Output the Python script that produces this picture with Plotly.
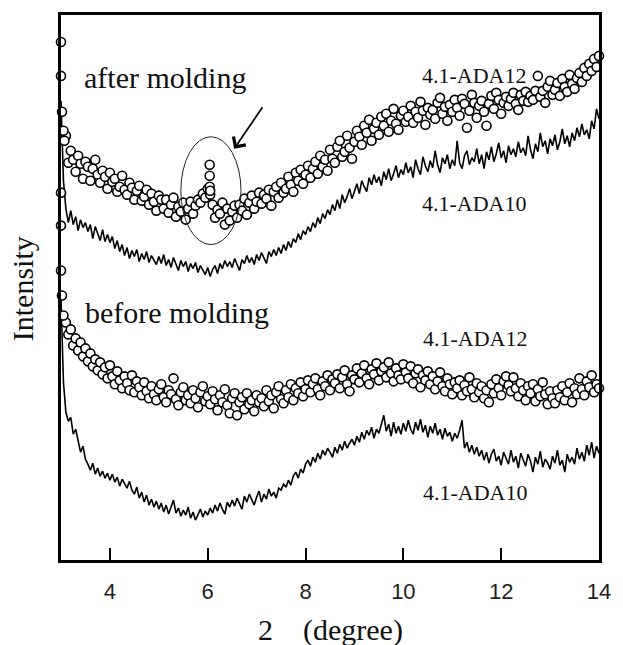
import numpy as np
import plotly.graph_objects as go

# ---------------- data (arbitrary intensity units) ----------------
# regular 2-theta scan grids
x_line = np.round(np.arange(3.00, 14.0001, 0.05), 2)      # 221 points
x_dots = np.round(np.arange(3.10, 14.0001, 0.05), 2)      # 219 points

after_ada10 = [
    460, 380, 352, 338, 350, 336, 344, 330, 341, 333,
    338, 329, 336, 322, 334, 327, 320, 331, 319, 326,
    318, 324, 312, 320, 309, 316, 305, 313, 302, 310,
    304, 311, 299, 307, 301, 309, 298, 305, 300, 296,
    304, 297, 306, 295, 301, 293, 303, 296, 290, 300,
    294, 299, 289, 297, 292, 298, 288, 295, 290, 286,
    293, 284, 291, 295, 287, 297, 292, 300, 294, 299,
    293, 302, 296, 290, 301, 297, 305, 298, 303, 296,
    306, 300, 308, 302, 297, 309, 304, 311, 305, 313,
    307, 316, 310, 319, 313, 322, 318, 327, 321, 330,
    326, 334, 329, 338, 333, 343, 337, 347, 342, 351,
    346, 356, 350, 361, 352, 366, 358, 364, 372, 362,
    370, 377, 367, 380, 374, 369, 383, 376, 386, 378,
    384, 375, 389, 381, 392, 380, 387, 395, 383, 391,
    386, 398, 388, 394, 383, 401, 392, 386, 404, 395,
    389, 400, 393, 410, 396, 388, 403, 397, 406, 392,
    401, 395, 420, 398, 392, 405, 410, 396, 403, 399,
    412, 397, 406, 392, 409, 401, 414, 399, 407, 418,
    403, 410, 398, 415, 406, 412, 404, 419, 408, 413,
    405, 425, 411, 402, 417, 409, 428, 414, 420, 407,
    422, 415, 426, 411, 419, 432, 417, 425, 414, 428,
    420, 433, 424, 437, 426, 431, 422, 440, 432, 452,
    442,
]

before_ada10 = [
    262, 178, 148, 139, 143, 126, 131, 118, 108, 114,
    101, 96, 90, 97, 86, 92, 84, 89, 82, 87,
    80, 86, 78, 83, 74, 81, 76, 72, 79, 70,
    66, 73, 62, 68, 58, 65, 55, 61, 53, 59,
    51, 57, 48, 55, 46, 53, 60, 47, 52, 44,
    50, 45, 53, 42, 48, 40, 46, 51, 43, 49,
    45, 52, 47, 55, 49, 57, 51, 46, 58, 53,
    60, 54, 62, 56, 51, 64, 58, 66, 60, 55,
    63, 69, 58, 66, 61, 71, 64, 68, 62, 72,
    70, 76, 73, 80, 75, 84, 88, 82, 91, 87,
    96, 100, 94, 103, 98, 107, 101, 110, 105, 112,
    108, 103, 113, 107, 116, 110, 119, 112, 117, 121,
    115, 124, 118, 128, 121, 130, 125, 133, 122, 131,
    127, 135, 145, 129, 136, 124, 138, 127, 134, 126,
    137, 129, 140, 131, 126, 138, 130, 141, 128, 135,
    123, 134, 127, 137, 125, 131, 121, 132, 124, 128,
    119, 127, 122, 130, 140, 112, 118, 108, 115, 106,
    113, 104, 110, 100, 108, 97, 106, 111, 99, 104,
    95, 108, 101, 96, 110, 98, 104, 92, 107, 100,
    94, 106, 99, 88, 103, 96, 109, 93, 101, 97,
    91, 104, 97, 110, 95, 100, 88, 106, 98, 103,
    96, 112, 101, 108, 99, 115, 105, 118, 102, 114,
    107,
]

after_ada12 = [
    425, 398, 410, 401, 389, 405, 397, 382, 399, 394,
    380, 392, 401, 386, 378, 390, 384, 372, 388, 379,
    382, 369, 374, 385, 371, 366, 378, 373, 361, 370,
    375, 360, 364, 371, 356, 367, 359, 350, 365, 361,
    352, 361, 348, 356, 363, 344, 354, 349, 358, 341,
    352, 359, 347, 355, 361, 358, 367, 363, 372, 366,
    356, 343, 351, 347, 358, 336, 352, 340, 349, 355,
    343, 356, 350, 362, 346, 358, 365, 352, 359, 368,
    357, 366, 362, 371, 355, 369, 374, 363, 378, 368,
    372, 384, 376, 369, 388, 380, 391, 377, 386, 395,
    383, 392, 399, 387, 405, 394, 401, 390, 411, 402,
    398, 414, 420, 404, 409, 425, 413, 402, 419, 430,
    424, 416, 435, 428, 441, 420, 432, 438, 426, 444,
    435, 447, 429, 440, 452, 437, 431, 445, 450, 439,
    444, 455, 438, 449, 443, 459, 450, 436, 453, 446,
    451, 442, 458, 463, 447, 454, 440, 456, 449, 461,
    453, 445, 462, 457, 433, 450, 466, 458, 443, 455,
    460, 449, 435, 457, 465, 452, 468, 461, 447, 458,
    464, 455, 462, 468, 457, 451, 466, 460, 469, 459,
    465, 461, 470, 485, 464, 470, 458, 474, 480, 466,
    471, 478, 465, 482, 474, 469, 486, 477, 472, 483,
    488, 479, 493, 485, 497, 490, 502, 494, 505,
]
# steep start and the small reflection near 6 degrees (extra points)
after_ada12_extra_x = [3.00, 3.00, 3.02, 3.05, 3.07, 6.04, 6.04, 6.04, 6.05]
after_ada12_extra_y = [519, 485, 449, 430, 420, 396, 385, 374, 370]

before_ada12 = [
    238, 226, 231, 215, 222, 210, 218, 204, 212, 199,
    207, 194, 201, 190, 198, 186, 193, 182, 195, 184,
    176, 189, 180, 172, 184, 177, 170, 185, 168, 179,
    173, 165, 178, 169, 162, 174, 166, 160, 171, 176,
    163, 158, 170, 166, 182, 161, 155, 168, 173, 160,
    165, 157, 170, 162, 153, 168, 174, 159, 164, 156,
    169, 161, 150, 165, 158, 171, 155, 147, 162, 167,
    145, 158, 163, 151, 167, 156, 160, 149, 165, 158,
    162, 154, 170, 159, 165, 152, 168, 174, 161, 157,
    170, 163, 176, 160, 172, 167, 178, 164, 171, 180,
    168, 176, 182, 171, 165, 179, 174, 185, 170, 181,
    177, 186, 172, 183, 190, 176, 169, 185, 181, 192,
    178, 187, 195, 182, 176, 191, 186, 197, 180, 189,
    193, 183, 198, 187, 179, 192, 185, 181, 196, 188,
    182, 194, 177, 187, 191, 173, 185, 180, 189, 176,
    184, 171, 179, 188, 174, 169, 182, 176, 166, 178,
    172, 180, 165, 175, 169, 183, 171, 163, 177, 168,
    174, 162, 170, 158, 176, 167, 181, 172, 165, 179,
    184, 175, 169, 183, 172, 164, 177, 170, 160, 174,
    167, 176, 159, 171, 164, 178, 166, 156, 169, 162,
    157, 170, 163, 174, 160, 168, 177, 158, 172, 166,
    182, 171, 165, 179, 173, 185, 168, 176, 172,
]
before_ada12_extra_x = [3.00, 3.00, 3.00, 3.02, 3.05]
before_ada12_extra_y = [368, 335, 290, 265, 245]

x_ticks = [4, 6, 8, 10, 12, 14]

# ---------------- figure ----------------
SERIF = "Liberation Serif, Times New Roman, serif"
SANS = "Liberation Sans, Arial, sans-serif"

fig = go.Figure()

line_style = dict(color="black", width=1.6)
marker_style = dict(symbol="circle", size=9, color="white",
                    line=dict(color="black", width=1.6))

fig.add_trace(go.Scatter(x=x_line, y=after_ada10, mode="lines", line=line_style))
fig.add_trace(go.Scatter(x=x_line, y=before_ada10, mode="lines", line=line_style))
fig.add_trace(go.Scatter(x=list(x_dots) + after_ada12_extra_x,
                         y=after_ada12 + after_ada12_extra_y,
                         mode="markers", marker=marker_style, cliponaxis=False))
fig.add_trace(go.Scatter(x=list(x_dots) + before_ada12_extra_x,
                         y=before_ada12 + before_ada12_extra_y,
                         mode="markers", marker=marker_style, cliponaxis=False))

# ellipse around the small reflection and arrow
fig.add_shape(type="circle", xref="x", yref="y", x0=5.45, x1=6.68, y0=316, y1=424,
              line=dict(color="#222", width=1))
fig.add_annotation(x=6.54, y=412, ax=7.14, ay=455, xref="x", yref="y",
                   axref="x", ayref="y", text="", showarrow=True,
                   arrowhead=4, arrowsize=1.6, arrowwidth=1.8, arrowcolor="black")

labels = [
    ("after molding", 5.12, 483, 30),
    ("before molding", 5.38, 248, 30),
    ("4.1-ADA12", 11.45, 485, 22),
    ("4.1-ADA10", 11.45, 357, 22),
    ("4.1-ADA12", 11.48, 222, 22),
    ("4.1-ADA10", 11.48, 68, 22),
]
for txt, lx, ly, fs in labels:
    fig.add_annotation(x=lx, y=ly, xref="x", yref="y", text=txt, showarrow=False,
                       font=dict(family=SERIF, size=fs, color="#111"),
                       xanchor="center", yanchor="middle")

fig.add_annotation(x=-0.0713, y=0.498, xref="paper", yref="paper", text="Intensity",
                   textangle=-90, showarrow=False,
                   font=dict(family=SERIF, size=30, color="#111"),
                   xanchor="center", yanchor="middle")
fig.add_annotation(x=0.501, y=-0.128, xref="paper", yref="paper",
                   text="2\u00a0\u00a0\u00a0\u00a0(degree)", showarrow=False,
                   font=dict(family=SERIF, size=30, color="#111"),
                   xanchor="center", yanchor="middle")

fig.update_layout(
    width=623, height=645,
    margin=dict(l=61, r=15, t=14, b=85),
    paper_bgcolor="white", plot_bgcolor="white",
    showlegend=False,
)
fig.update_xaxes(range=[3, 14], tickvals=x_ticks, ticks="inside", ticklen=12,
                 tickwidth=2, tickcolor="black", showline=True, linewidth=2.5,
                 linecolor="black", mirror=True, showgrid=False, zeroline=False,
                 tickfont=dict(family=SANS, size=22, color="#222"),
                 ticklabelstandoff=10)
fig.update_yaxes(range=[0, 546], showticklabels=False, ticks="", showline=True,
                 linewidth=2.5, linecolor="black", mirror=True, showgrid=False,
                 zeroline=False)

fig.write_html("out.html", config={"displayModeBar": False},
               post_script="document.body.style.margin='0';document.body.style.overflow='hidden';")
